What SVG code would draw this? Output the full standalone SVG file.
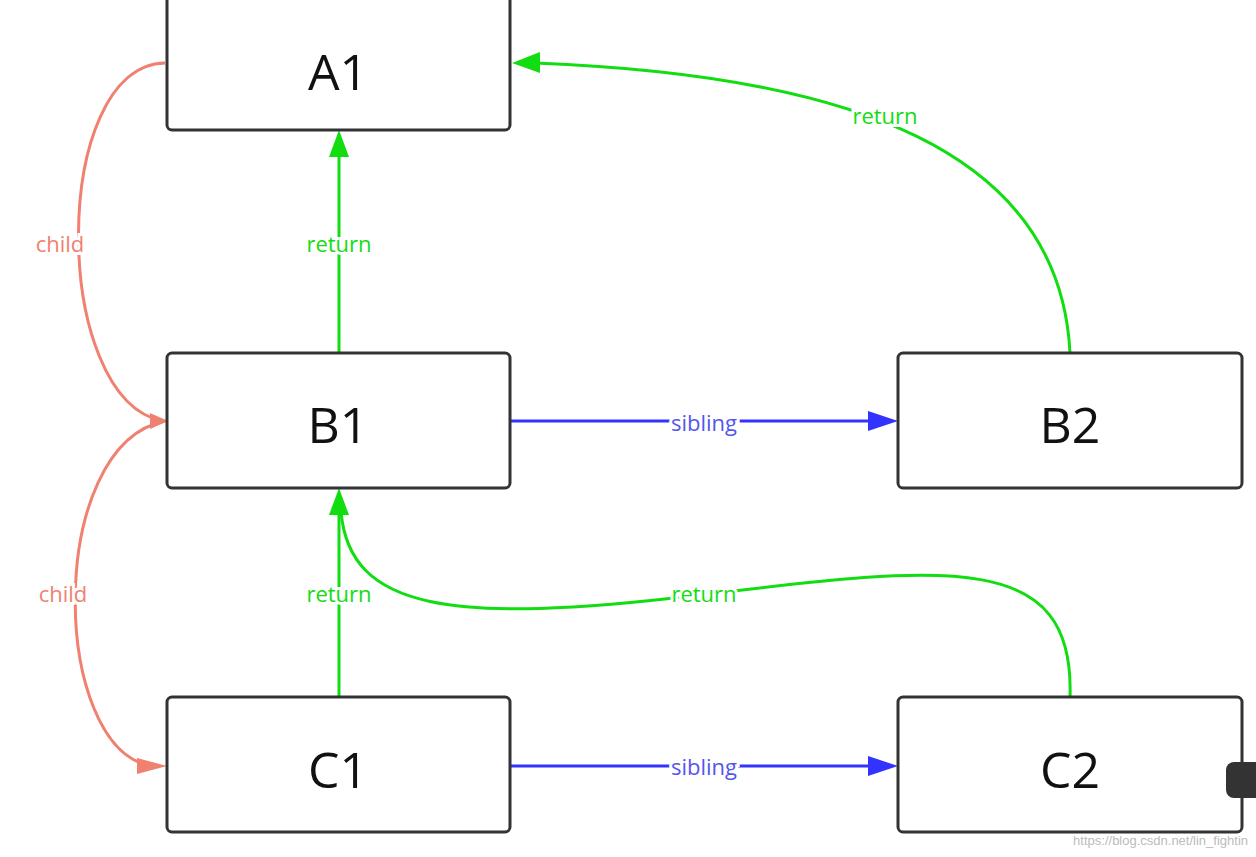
<svg xmlns="http://www.w3.org/2000/svg" width="1256" height="857" viewBox="0 0 1256 857">
<style>
.n{fill:#fff;stroke:#333;stroke-width:3}
.nt{font-family:"Open Sans","Liberation Sans",sans-serif;font-size:50px;fill:#111;text-anchor:middle}
.e{fill:none;stroke-width:3}
.g{stroke:#11dd11}.r{stroke:#f08070}.b{stroke:#3333ff}
.l{font-family:"Open Sans","Liberation Sans",sans-serif;font-size:22px;text-anchor:middle;paint-order:stroke;stroke:#fff;stroke-width:6}
</style>
<defs>
<marker id="ag" viewBox="0 0 10 10" refX="9" refY="5" markerWidth="9" markerHeight="9" markerUnits="userSpaceOnUse" orient="auto"><path d="M0,0L10,5L0,10z" fill="#11dd11"/></marker>
<marker id="ar" viewBox="0 0 10 10" refX="9" refY="5" markerWidth="9" markerHeight="9" markerUnits="userSpaceOnUse" orient="auto"><path d="M0,0L10,5L0,10z" fill="#f08070"/></marker>
<marker id="ab" viewBox="0 0 10 10" refX="9" refY="5" markerWidth="9" markerHeight="9" markerUnits="userSpaceOnUse" orient="auto"><path d="M0,0L10,5L0,10z" fill="#3333ff"/></marker>
</defs>
<style>marker{overflow:visible}</style>
<rect width="1256" height="857" fill="#fff"/>
<g id="connectors">
<path class="e r" d="M165,63 C50,65 50,400 163,421" marker-end="url(#ar)" style="marker-end:none"/>
<path d="M150,413 L168,421 L150,429z" fill="#f08070"/>
<path class="e r" d="M165,421 C45,445 50,750 152,766"/>
<path d="M137,758 L167,766 L137,774z" fill="#f08070"/>
<path class="e g" d="M339,353 L339,152"/>
<path d="M329,157 L339,130 L349,157z" fill="#11dd11"/>
<path class="e g" d="M1070,353 C1060,150 850,75 535,63"/>
<path d="M540,52 L512,63 L540,73z" fill="#11dd11"/>
<path class="e b" d="M510,421 L875,421"/>
<path d="M868,411 L898,421 L868,431z" fill="#3333ff"/>
<path class="e g" d="M339,697 L339,510"/>
<path d="M329,515 L339,488 L349,515z" fill="#11dd11"/>
<path class="e g" d="M1070,697 C1075,550 950,565 700,595 C450,625 350,610 341,512"/>
<path class="e b" d="M510,766 L875,766"/>
<path d="M868,756 L898,766 L868,776z" fill="#3333ff"/>
<text class="l" x="60" y="252" fill="#f08070">child</text>
<text class="l" x="63" y="602" fill="#f08070">child</text>
<text class="l" x="339" y="252" fill="#11dd11">return</text>
<text class="l" x="339" y="602" fill="#11dd11">return</text>
<text class="l" x="885" y="124" fill="#11dd11">return</text>
<text class="l" x="704" y="602" fill="#11dd11">return</text>
<text class="l" x="704" y="431" fill="#5555ee">sibling</text>
<text class="l" x="704" y="775" fill="#5555ee">sibling</text>
</g>
<g id="A1"><rect class="n" x="167" y="-5" width="343" height="135" rx="5"/><text class="nt" x="338" y="90">A1</text></g>
<g id="B1"><rect class="n" x="167" y="353" width="343" height="135" rx="5"/><text class="nt" x="338" y="443">B1</text></g>
<g id="B2"><rect class="n" x="898" y="353" width="344" height="135" rx="5"/><text class="nt" x="1070" y="443">B2</text></g>
<g id="C1"><rect class="n" x="167" y="697" width="343" height="135" rx="5"/><text class="nt" x="338" y="788">C1</text></g>
<g id="C2"><rect class="n" x="898" y="697" width="344" height="135" rx="5"/><text class="nt" x="1070" y="788">C2</text></g>
<rect x="1226" y="762" width="40" height="36" rx="8" fill="#333"/>
<text x="1248" y="845" font-family="Liberation Sans,sans-serif" font-size="13" fill="#bbb" text-anchor="end">https://blog.csdn.net/lin_fightin</text>
</svg>
